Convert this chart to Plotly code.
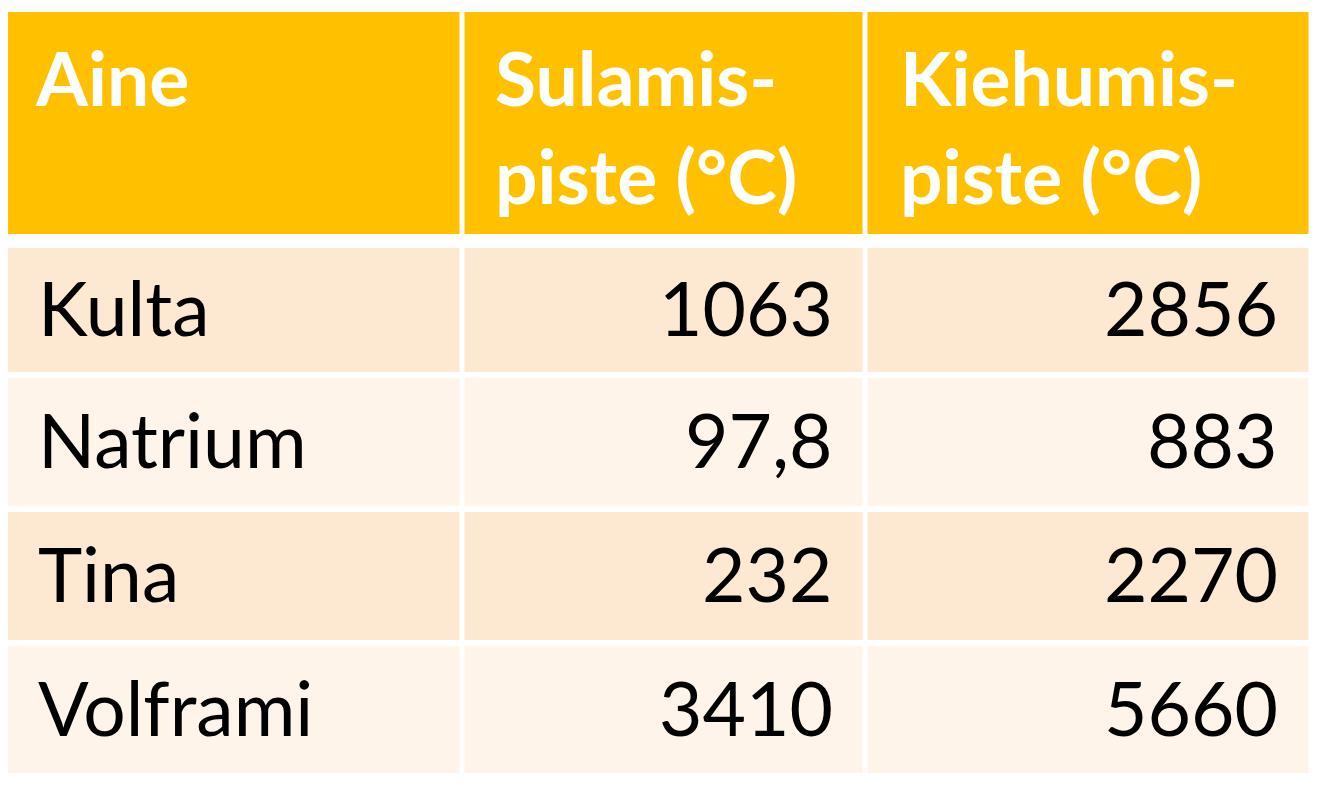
import plotly.graph_objects as go

# table contents
otsikot = ["Aine", "Sulamis-<br>piste (°C)", "Kiehumis-<br>piste (°C)"]
aineet = ["Kulta", "Natrium", "Tina", "Volframi"]
sulamispiste = [1063, 97.8, 232, 3410]
kiehumispiste = [2856, 883, 2270, 5660]

HEADER_COLOR = "#FFC000"
BAND1 = "#FDE9D2"
BAND2 = "#FEF4E9"
FONT = "Lato"

# cell edges in page pixels (gap is split half on each side)
x_edges = [2.5, 462.5, 865.5, 1311.5]
head_edges = [9, 237]
row_edges = [245, 375, 508.5, 643, 776]
GAP = 5
OFF = 8  # page body margin, so axis units equal page pixels


def fi(v):
    # finnish decimal comma
    return str(v).replace(".", ",")


fig = go.Figure()

fig.add_trace(go.Heatmap(
    x=x_edges, y=head_edges, z=[[0] * len(otsikot)],
    colorscale=[[0, HEADER_COLOR], [1, HEADER_COLOR]],
    showscale=False, xgap=GAP, ygap=6, hoverinfo="skip",
))

band = [[i % 2] * len(otsikot) for i in range(len(aineet))]
fig.add_trace(go.Heatmap(
    x=x_edges, y=row_edges, z=band, zmin=0, zmax=1,
    colorscale=[[0, BAND1], [1, BAND2]],
    showscale=False, xgap=GAP, ygap=6, hoverinfo="skip",
))

# header text
head_x = [33, 493, 898]
for x, t in zip(head_x, otsikot):
    fig.add_annotation(x=x, y=head_edges[0] + 21, text=t, showarrow=False,
                       xanchor="left", yanchor="top", align="left",
                       font=dict(family=FONT, size=75, color="white", weight="bold"))

# body text
for i, (a, s, k) in enumerate(zip(aineet, sulamispiste, kiehumispiste)):
    yc = (row_edges[i] + row_edges[i + 1]) / 2 - 3
    fig.add_annotation(x=36, y=yc, text=a, showarrow=False, xanchor="left",
                       yanchor="middle", font=dict(family=FONT, size=75, color="black"))
    fig.add_annotation(x=835, y=yc, text=fi(s), showarrow=False, xanchor="right",
                       yanchor="middle", font=dict(family=FONT, size=75, color="black"))
    fig.add_annotation(x=1280, y=yc, text=fi(k), showarrow=False, xanchor="right",
                       yanchor="middle", font=dict(family=FONT, size=75, color="black"))

fig.update_xaxes(range=[OFF, 1321 + OFF], visible=False, fixedrange=True)
fig.update_yaxes(range=[809 + OFF, OFF], visible=False, fixedrange=True)
fig.update_layout(width=1321, height=809, margin=dict(l=0, r=0, t=0, b=0),
                  plot_bgcolor="white", paper_bgcolor="white")

fig.write_html("out.html")
